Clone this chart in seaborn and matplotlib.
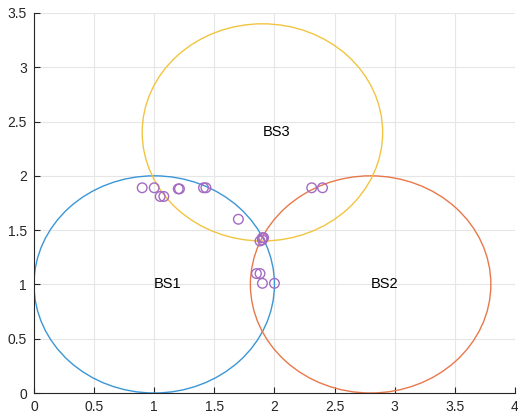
import numpy as np
import pandas as pd
import matplotlib
matplotlib.use("Agg")
import matplotlib.pyplot as plt
from matplotlib.patches import Circle
import seaborn as sns

# Base stations: centres and coverage radius
station_names = ["BS1", "BS2", "BS3"]
station_x = [1.0, 2.8, 1.9]
station_y = [1.0, 1.0, 2.4]
station_r = [1.0, 1.0, 1.0]
station_colors = ["#3a96d6", "#e8784a", "#f2c440"]

# Estimated positions
est_x = [0.90, 1.00, 1.05, 1.08, 1.20, 1.21, 1.41, 1.43, 1.70, 2.31, 2.40,
         1.90, 1.88, 1.90, 1.91, 1.85, 1.88, 1.90, 2.00]
est_y = [1.89, 1.89, 1.81, 1.81, 1.88, 1.88, 1.89, 1.89, 1.60, 1.89, 1.89,
         1.43, 1.40, 1.41, 1.43, 1.10, 1.10, 1.01, 1.01]

sns.set_theme(style="whitegrid")
plt.rcParams["font.family"] = ["Liberation Sans", "DejaVu Sans"]

fig = plt.figure(figsize=(5.18, 4.18), dpi=100)
ax = fig.add_axes([0.0656, 0.0598, 0.9284, 0.9092])

for name, cx, cy, r, c in zip(station_names, station_x, station_y, station_r, station_colors):
    ax.add_patch(Circle((cx, cy), r, fill=False, edgecolor=c, linewidth=1.0, zorder=2))
    ax.text(cx, cy, name, ha="left", va="center", fontsize=10.5, color="black", zorder=4)

df = pd.DataFrame({"x": est_x, "y": est_y})
sns.scatterplot(data=df, x="x", y="y", ax=ax, marker="o", s=48,
                facecolor="none", edgecolor="#a36bc4", linewidth=1.0, zorder=3)

ax.set_xlim(0, 4)
ax.set_ylim(0, 3.5)
ax.set_xticks(np.arange(0, 4.01, 0.5))
ax.set_yticks(np.arange(0, 3.51, 0.5))
ax.set_xticklabels(["0", "0.5", "1", "1.5", "2", "2.5", "3", "3.5", "4"])
ax.set_yticklabels(["0", "0.5", "1", "1.5", "2", "2.5", "3", "3.5"])
ax.set_xlabel("")
ax.set_ylabel("")

ax.set_facecolor("white")
ax.grid(True, color="#e6e6e6", linewidth=0.8)
for side in ["top", "right"]:
    ax.spines[side].set_visible(False)
for side in ["left", "bottom"]:
    ax.spines[side].set_visible(True)
    ax.spines[side].set_color("#262626")
    ax.spines[side].set_linewidth(0.8)

ax.tick_params(axis="both", direction="in", length=4, width=0.8, color="#262626",
               labelsize=10, labelcolor="#262626", pad=5,
               bottom=True, left=True)

fig.savefig("out.png", dpi=100, facecolor="white")
